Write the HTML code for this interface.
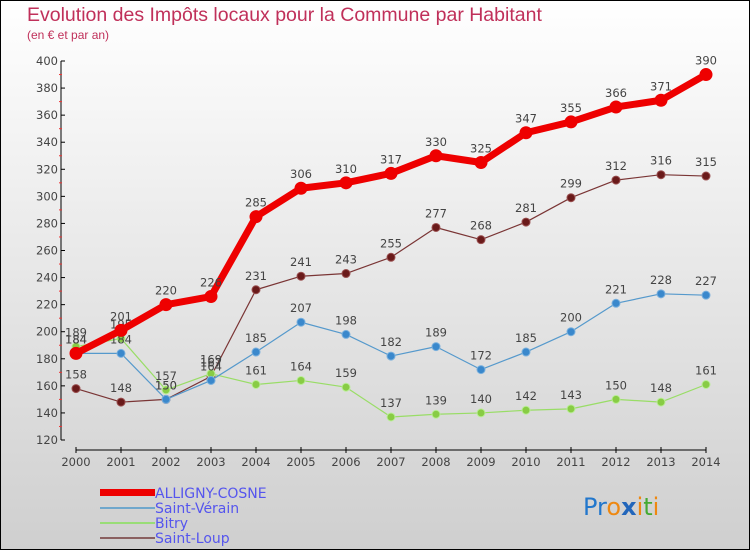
<!DOCTYPE html>
<html><head><meta charset="utf-8"><style>
body{margin:0}
svg text{font-family:"DejaVu Sans","Liberation Sans",sans-serif}
svg text.ls{font-family:"Liberation Sans",sans-serif}
</style></head><body>
<svg id="c" width="750" height="550" xmlns="http://www.w3.org/2000/svg">
<defs><linearGradient id="bg" x1="0" y1="0" x2="0" y2="1"><stop offset="0" stop-color="#ffffff"/><stop offset="1" stop-color="#cfcfcf"/></linearGradient></defs>
<rect x="0.5" y="0.5" width="749" height="549" fill="url(#bg)" stroke="#000"/>
<text class="ls" x="27" y="21" font-size="19.5" fill="#c0305a">Evolution des Impôts locaux pour la Commune par Habitant</text>
<text class="ls" x="27" y="39" font-size="12" fill="#c0305a">(en € et par an)</text>
<g id="axes"></g>
<g id="series"></g>
<g>
<rect x="100" y="489" width="55" height="7" fill="#ee0000"/>
<text x="155" y="498" font-size="14" fill="#5555ee">ALLIGNY-COSNE</text>
<rect x="100" y="507" width="55" height="2" fill="#6fa7cc"/>
<text x="155" y="513" font-size="14" fill="#5555ee">Saint-Vérain</text>
<rect x="100" y="522" width="55" height="2" fill="#99dd77"/>
<text x="155" y="528" font-size="14" fill="#5555ee">Bitry</text>
<rect x="100" y="537" width="55" height="2" fill="#8a6060"/>
<text x="155" y="543" font-size="14" fill="#5555ee">Saint-Loup</text>
</g>
<text x="583" y="515" font-size="24"><tspan fill="#2277cc">Pr</tspan><tspan fill="#ee8811">o</tspan><tspan fill="#2266bb" font-weight="bold">x</tspan><tspan fill="#ee8811">i</tspan><tspan fill="#44aa33">t</tspan><tspan fill="#ee8811">i</tspan></text>
</svg>
<script>
const years=[2000,2001,2002,2003,2004,2005,2006,2007,2008,2009,2010,2011,2012,2013,2014];
const alligny=[184,201,220,226,285,306,310,317,330,325,347,355,366,371,390];
const saintVerain=[184,184,150,164,185,207,198,182,189,172,185,200,221,228,227];
const bitry=[189,195,157,169,161,164,159,137,139,140,142,143,150,148,161];
const saintLoup=[158,148,150,167,231,241,243,255,277,268,281,299,312,316,315];
const yTicks=[120,140,160,180,200,220,240,260,280,300,320,340,360,380,400];
const NS='http://www.w3.org/2000/svg';
const X=i=>76+i*45;
const Y=v=>440-(v-120)*(379/280);
function mk(tag,attrs,parent){const e=document.createElementNS(NS,tag);for(const k in attrs)e.setAttribute(k,attrs[k]);parent.appendChild(e);return e;}
const ax=document.getElementById('axes');
let l=mk('line',{x1:61,y1:Y(400),x2:61,y2:Y(120),stroke:'#000'},ax);


yTicks.forEach(v=>{
  const t=mk('line',{x1:61,x2:65,y1:Y(v),y2:Y(v),stroke:'#000'},ax);
  
  
  if(v<400){const m=mk('line',{x1:59,x2:62,y1:Y(v+10),y2:Y(v+10),stroke:'#ee3333'},ax);
  
  }
  const tx=mk('text',{x:58,y:Y(v)+4,'font-size':11.5,'text-anchor':'end',fill:'#444'},ax);tx.textContent=v;
  
  
});
l=mk('line',{x1:X(0),y1:450,x2:X(14),y2:450,stroke:'#000'},ax);


years.forEach((y,i)=>{
  const t=mk('line',{x1:X(i),x2:X(i),y1:447,y2:453,stroke:'#000'},ax);
  
  
  const tx=mk('text',{x:X(i),y:466,'font-size':11.5,'text-anchor':'middle',fill:'#444'},ax);tx.textContent=y;
  
  
});
const sg=document.getElementById('series');
function draw(data,name,color,w,r,dot,stroke){
  const g=mk('g',{},sg);
  
  
  const p=mk('polyline',{points:data.map((v,i)=>X(i)+','+Y(v)).join(' '),fill:'none',stroke:color,'stroke-width':w,'stroke-linejoin':'round'},g);
  
  
  data.forEach((v,i)=>{
    const c=mk('circle',{cx:X(i),cy:Y(v),r:r,fill:dot,stroke:stroke,'stroke-width':1},g);
    
    
    const t=mk('text',{x:X(i),y:Y(v)-10,'font-size':11.5,'text-anchor':'middle',fill:'#444'},g);t.textContent=v;
    
    
  });
}
draw(saintLoup,'saint-loup','#7a3535',1.2,4,'#6a1a1a','#9a5050');
draw(bitry,'bitry','#99dd66',1.2,4,'#88cc44','#bbee99');
draw(saintVerain,'saint-verain','#5599cc',1.2,4,'#3a88cc','#7ab0dd');
draw(alligny,'alligny-cosne','#ee0000',7,6,'#ee0000','#ee0000');
</script>
</body></html>
